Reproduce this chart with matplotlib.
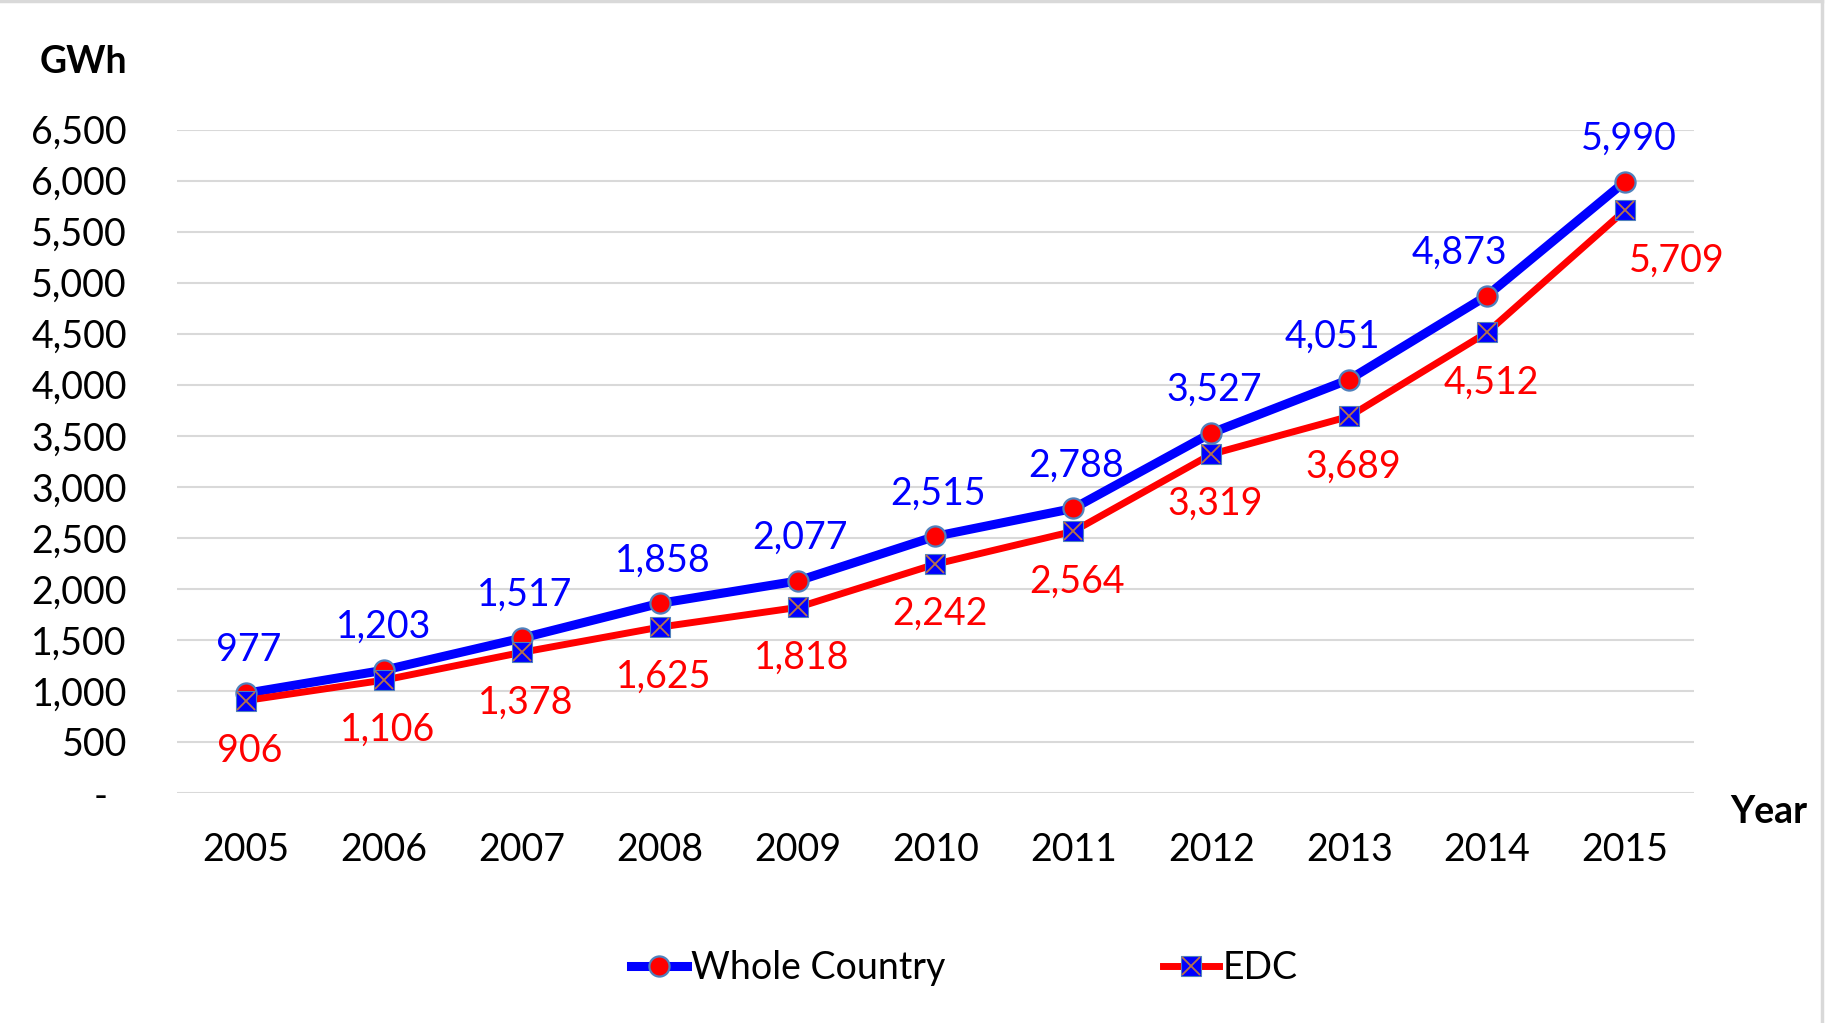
import matplotlib.pyplot as plt
from matplotlib.lines import Line2D
from matplotlib.ticker import FuncFormatter

plt.rcParams['font.family'] = ['Lato', 'DejaVu Sans']

years = ['2005', '2006', '2007', '2008', '2009', '2010', '2011', '2012', '2013', '2014', '2015']
whole_country = [977, 1203, 1517, 1858, 2077, 2515, 2788, 3527, 4051, 4873, 5990]
edc = [906, 1106, 1378, 1625, 1818, 2242, 2564, 3319, 3689, 4512, 5709]

# small horizontal nudges (points) for a few labels, like Excel placed them
blue_dx = [2, 0, 2, 2, 2, 2, 2, 2, -12, -20, 3]

x = list(range(len(years)))
FS = 27

fig = plt.figure(figsize=(18.26, 10.23), dpi=100)
ax = fig.add_axes([0.0969, 0.2248, 0.8308, 0.6486])

xcol = '#B8724A'

ax.plot(x, whole_country, color='#0000FF', lw=6.5, zorder=3, solid_capstyle='round')
ax.plot(x, edc, color='#FF0000', lw=5, zorder=4, solid_capstyle='round')
ax.plot(x, whole_country, ls='none', marker='o', ms=14.5, mfc='#FF0000',
        mec='#4F81BD', mew=1.6, zorder=5)
ax.plot(x, edc, ls='none', marker='s', ms=14, mfc='#0000FF',
        mec='#4F81BD', mew=0.8, zorder=6)
ax.plot(x, edc, ls='none', marker='x', ms=13.5, mec=xcol, mew=1.3, zorder=7)

for i, v in enumerate(whole_country):
    ax.annotate(f'{v:,}', (x[i], v), xytext=(blue_dx[i], 31), textcoords='offset points',
                ha='center', va='center', color='#0000FF', fontsize=FS, zorder=8)
for i, v in enumerate(edc):
    if i == len(edc) - 1:
        ax.annotate(f'{v:,}', (x[i], v), xytext=(3, -36), textcoords='offset points',
                    ha='left', va='center', color='#FF0000', fontsize=FS, zorder=8)
    else:
        ax.annotate(f'{v:,}', (x[i], v), xytext=(3, -36), textcoords='offset points',
                    ha='center', va='center', color='#FF0000', fontsize=FS, zorder=8)

ax.set_xlim(-0.5, len(years) - 0.5)
ax.set_ylim(0, 6500)
ax.set_yticks(range(0, 6501, 500))
ax.yaxis.set_major_formatter(FuncFormatter(lambda v, p: '-  ' if v == 0 else f'{int(v):,}'))
ax.set_xticks(x)
ax.set_xticklabels(years)
ax.tick_params(axis='both', length=0, labelsize=FS)
ax.tick_params(axis='y', pad=36)
ax.tick_params(axis='x', pad=28)
ax.grid(axis='y', color='#D9D9D9', lw=1.5)
ax.set_axisbelow(True)
for s in ax.spines.values():
    s.set_visible(False)

fig.text(0.0695, 0.939, 'GWh', ha='right', va='center', fontsize=FS, fontweight='bold')
fig.text(0.9688, 0.2063, 'Year', ha='center', va='center', fontsize=FS, fontweight='bold')

handles = [
    Line2D([], [], color='#0000FF', lw=6.5, marker='o', ms=14.5, mfc='#FF0000', mec='#4F81BD', mew=1.6),
    (Line2D([], [], color='#FF0000', lw=5, marker='s', ms=14, mfc='#0000FF', mec='#4F81BD', mew=0.8),
     Line2D([], [], ls='none', marker='x', ms=13.5, mec=xcol, mew=1.3)),
]
fig.legend(handles, ['Whole Country', 'EDC'], loc='center', bbox_to_anchor=(0.528, 0.054),
           ncol=2, frameon=False, fontsize=FS, handlelength=1.5, handletextpad=0.1,
           columnspacing=5.8)

# chart frame (top and right edges visible in the original)
fig.add_artist(Line2D([0, 0.998], [0.999, 0.999], color='#D9D9D9', lw=2.5, transform=fig.transFigure))
fig.add_artist(Line2D([0.998, 0.998], [0, 0.999], color='#D9D9D9', lw=2.5, transform=fig.transFigure))

fig.savefig('out.png', dpi=100)
